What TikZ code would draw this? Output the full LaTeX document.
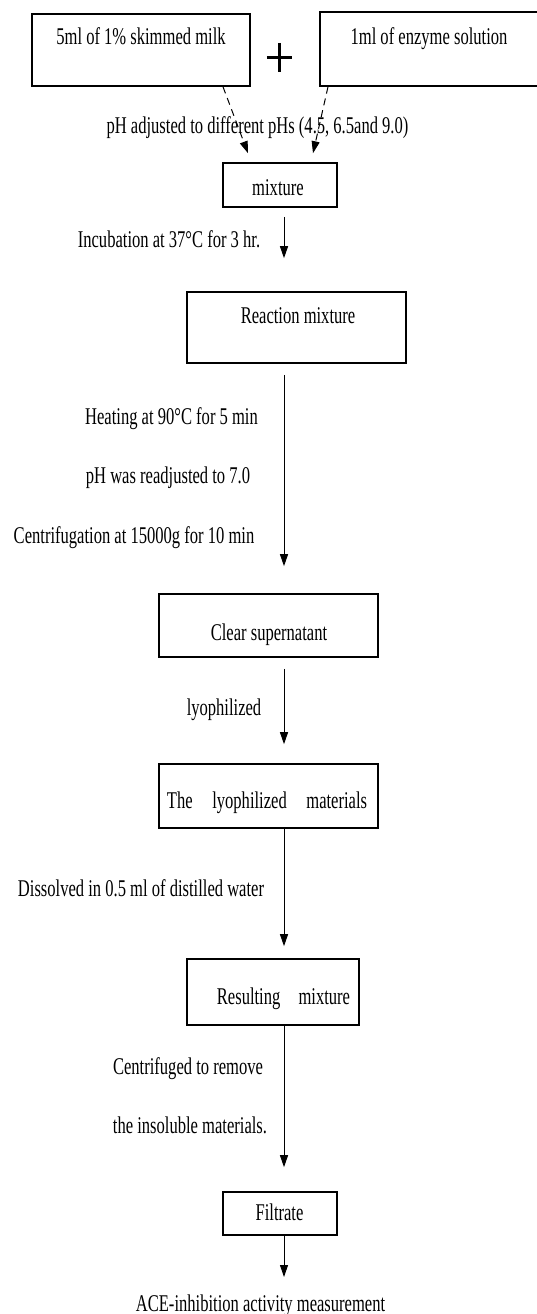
\documentclass[tikz,border=0pt]{standalone}
\usepackage{fontspec}
\usepackage{graphicx}
\setmainfont{Liberation Serif}
\usetikzlibrary{arrows.meta}
\newcommand{\sx}[1]{\scalebox{0.69}[1]{#1}}
\tikzset{
  lbl/.style={inner sep=0pt, anchor=base, font=\fontsize{24}{28}\selectfont},
  boxn/.style={draw=black, line width=1.6pt, inner sep=0pt},
  arr/.style={line width=1pt, -{Triangle[length=12pt,width=8pt]}},
  darr/.style={line width=1pt, dash pattern=on 7pt off 5pt, -{Triangle[length=12pt,width=8pt]}},
}
\begin{document}
\begin{tikzpicture}[x=1pt,y=-1pt]
\useasboundingbox (0,0) rectangle (537,1314);
\clip (0,0) rectangle (537,1314);
\coordinate (ax) at (284,0);
% boxes
\node[boxn, minimum width=218pt, minimum height=72pt] (b1) at (141,50) {};
\node[boxn, minimum width=225pt, minimum height=74pt] (b2) at (432.5,49) {};
\node[boxn, minimum width=114pt, minimum height=44pt] (mix) at (280,185) {};
\node[boxn, minimum width=219pt, minimum height=71pt] (react) at (296.5,327.5) {};
\node[boxn, minimum width=219pt, minimum height=63pt] (clear) at (268.5,625.5) {};
\node[boxn, minimum width=219pt, minimum height=64pt] (lyo) at (268.5,796) {};
\node[boxn, minimum width=172pt, minimum height=66pt] (res) at (273,992) {};
\node[boxn, minimum width=114pt, minimum height=43pt] (filt) at (280,1213.5) {};
% plus sign
\node[inner sep=0pt, minimum width=25pt, minimum height=29pt] (plus) at (279.5,57.5) {};
\draw[line width=3pt] (plus.north) -- (plus.south);
\draw[line width=3pt] (plus.west) -- (plus.east);
% texts
\node[lbl] (t1) at (141,45) {\sx{5ml of 1\% skimmed milk}};
\node[lbl] (t2) at (429,45) {\sx{1ml of enzyme solution}};
\node[lbl] (tph) at (257.5,133) {\sx{pH adjusted to different pHs (4.5, 6.5and 9.0)}};
\node[lbl] (tmix) at (278,195) {\sx{mixture}};
\node[lbl] (tinc) at (169,247) {\sx{Incubation at 37°C for 3 hr.}};
\node[lbl] (treact) at (298,323) {\sx{Reaction mixture}};
\node[lbl] (theat) at (171.5,424) {\sx{Heating at 90°C for 5 min}};
\node[lbl] (tph7) at (168,483) {\sx{pH was readjusted to 7.0}};
\node[lbl] (tcent) at (134,543) {\sx{Centrifugation at 15000g for 10 min}};
\node[lbl] (tclear) at (269,640) {\sx{Clear supernatant}};
\node[lbl] (tlyo) at (224,715) {\sx{lyophilized}};
\node[lbl] (tlyom) at (267,808) {\sx{\makebox[290pt][s]{The lyophilized materials}}};
\node[lbl] (tdis) at (141,896) {\sx{Dissolved in 0.5 ml of distilled water}};
\node[lbl] (tres) at (283.5,1004) {\sx{\makebox[193pt][s]{Resulting mixture}}};
\node[lbl] (tcf1) at (188,1074) {\sx{Centrifuged to remove}};
\node[lbl] (tcf2) at (190,1133) {\sx{the insoluble materials.}};
\node[lbl] (tfilt) at (279.5,1220) {\sx{Filtrate}};
\node[lbl] (tace) at (260.5,1311) {\sx{ACE-inhibition activity measurement}};
\coordinate (aceend) at (284,1277);
% dashed arrows
\draw[darr] ([xshift=82pt]b1.south) -- ([xshift=-32pt,yshift=9pt]mix.north);
\draw[darr] ([xshift=-104.5pt]b2.south) -- ([xshift=33pt,yshift=9pt]mix.north);
% arrows
\draw[arr, shorten <=9pt, shorten >=33pt] (mix.south -| ax) -- (react.north -| ax);
\draw[arr, shorten <=11pt, shorten >=27pt] (react.south -| ax) -- (clear.north -| ax);
\draw[arr, shorten <=11pt, shorten >=19pt] (clear.south -| ax) -- (lyo.north -| ax);
\draw[arr, shorten >=12pt] (lyo.south -| ax) -- (res.north -| ax);
\draw[arr, shorten >=24pt] (res.south -| ax) -- (filt.north -| ax);
\draw[arr] (filt.south -| ax) -- (aceend);
\end{tikzpicture}
\end{document}
